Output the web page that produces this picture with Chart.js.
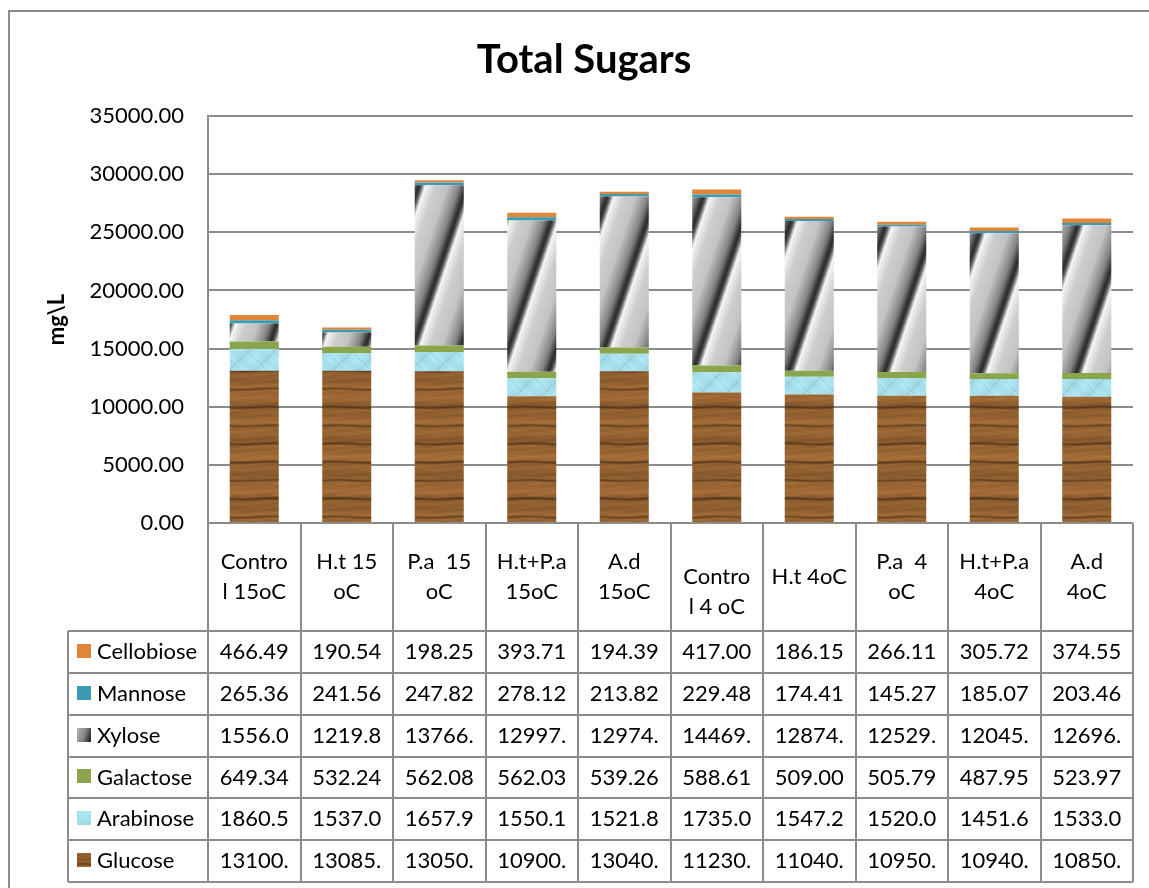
<!DOCTYPE html>
<html lang="en">
<head>
<meta charset="UTF-8" />
<title>Total Sugars</title>
<script src="https://cdn.jsdelivr.net/npm/chart.js"></script>
<style>
  html, body { margin: 0; padding: 0; background: #fff; }
  #wrap { width: 1149px; height: 888px; }
</style>
</head>
<body>
<div id="wrap"><canvas id="sugarChart" width="1149" height="888"></canvas></div>
<script>
// categories as they wrap in the data table header
const categories = [
  ["Contro", "l 15oC"], ["H.t 15", "oC"], ["P.a  15", "oC"], ["H.t+P.a", "15oC"], ["A.d", "15oC"],
  ["", "Contro", "l 4 oC"], ["H.t 4oC"], ["P.a  4", "oC"], ["H.t+P.a", "4oC"], ["A.d", "4oC"]
];
const seriesNames = ["Glucose", "Arabinose", "Galactose", "Xylose", "Mannose", "Cellobiose"];

const glucose    = [13100, 13085, 13050, 10900, 13040, 11230, 11040, 10950, 10940, 10850];
const arabinose  = [1860.5, 1537.0, 1657.9, 1550.1, 1521.8, 1735.0, 1547.2, 1520.0, 1451.6, 1533.0];
const galactose  = [649.34, 532.24, 562.08, 562.03, 539.26, 588.61, 509.00, 505.79, 487.95, 523.97];
const xylose     = [1556.0, 1219.8, 13766, 12997, 12974, 14469, 12874, 12529, 12045, 12696];
const mannose    = [265.36, 241.56, 247.82, 278.12, 213.82, 229.48, 174.41, 145.27, 185.07, 203.46];
const cellobiose = [466.49, 190.54, 198.25, 393.71, 194.39, 417.00, 186.15, 266.11, 305.72, 374.55];

const yMin = 0, yMax = 35000, yStep = 5000;

const canvas = document.getElementById("sugarChart");
const ctx = canvas.getContext("2d");
const TAU = Math.PI * 2;
const lineColor = "#8c8c8c";

// build a repeating texture from a per-pixel function
function makePattern(w, h, pixelFn) {
  const c = document.createElement("canvas");
  c.width = w; c.height = h;
  const g = c.getContext("2d");
  const img = g.createImageData(w, h);
  for (let y = 0; y < h; y++) {
    for (let x = 0; x < w; x++) {
      const p = pixelFn(x, y);
      const i = (y * w + x) * 4;
      img.data[i] = p[0]; img.data[i + 1] = p[1]; img.data[i + 2] = p[2]; img.data[i + 3] = 255;
    }
  }
  g.putImageData(img, 0, 0);
  return ctx.createPattern(c, "repeat");
}

// wood grain for glucose: mostly horizontal streaks
const woodFill = makePattern(64, 128, (x, y) => {
  const fy = y / 128, fx = x / 64;
  const s = 0.4 * Math.sin(TAU * 4 * fy + 0.15 * Math.sin(TAU * fx))
          + 0.3 * Math.sin(TAU * (11 * fy) + 0.4 * Math.sin(TAU * 2 * fx))
          + 0.2 * Math.sin(TAU * (23 * fy + fx))
          + 0.1 * Math.sin(TAU * (37 * fy - 2 * fx));
  const dark = Math.pow(Math.max(0, Math.sin(TAU * (7 * fy + 0.03 * Math.sin(TAU * fx)))), 10);
  const k = 1 + 0.15 * s - 0.35 * dark;
  return [150 * k, 99 * k, 50 * k];
});

// pale blue lattice for arabinose
const arabFill = makePattern(26, 26, (x, y) => {
  const d1 = (x + y) % 26, d2 = (x - y + 104) % 26;
  let k = 0;
  if (d1 < 2) k -= 0.06;
  if (d2 < 2) k -= 0.06;
  k += 0.04 * Math.sin(TAU * x / 26) * Math.sin(TAU * y / 26);
  return [168 * (1 + k), 225 * (1 + k), 237 * (1 + k)];
});

// steep metallic stripes for xylose
const xylStops = [[0, 40], [0.06, 90], [0.14, 245], [0.35, 205], [0.6, 195], [0.85, 130], [0.95, 70], [1, 40]];
const xylFill = makePattern(48, 144, (x, y) => {
  const t = ((x + y / 3) % 48) / 48;
  let v = 40;
  for (let i = 1; i < xylStops.length; i++) {
    const a = xylStops[i - 1], b = xylStops[i];
    if (t <= b[0]) { v = a[1] + (b[1] - a[1]) * (t - a[0]) / (b[0] - a[0]); break; }
  }
  return [v, v, v];
});

const fills = [woodFill, arabFill, "#8aa54c", xylFill, "#3a9bb2", "#df863a"];
const seriesData = [glucose, arabinose, galactose, xylose, mannose, cellobiose];

const fmt = v => v.toFixed(2).slice(0, 6);

const tablePlugin = {
  id: "dataTable",
  beforeDraw(chart) {
    const c = chart.ctx;
    c.save();
    c.fillStyle = "#fff";
    c.fillRect(0, 0, chart.width, chart.height);
    c.strokeStyle = lineColor;
    c.lineWidth = 2;
    c.strokeRect(9, 11, 1200, 1000);
    c.fillStyle = "#000";
    c.font = "bold 40px Lato";
    c.textAlign = "center";
    c.textBaseline = "middle";
    c.fillText("Total Sugars", 584, 60);
    c.restore();
  },
  afterDraw(chart) {
    const c = chart.ctx;
    const xs = chart.scales.x;
    const n = chart.data.labels.length;
    const colW = (xs.right - xs.left) / n;
    const top = chart.chartArea.bottom;
    const headBottom = top + 108;
    const rowH = 41.85;
    const sets = chart.data.datasets.slice().reverse();
    const bottom = headBottom + sets.length * rowH;
    const legLeft = 68;

    c.save();
    c.strokeStyle = lineColor;
    c.lineWidth = 2;
    c.beginPath();
    for (let i = 0; i <= n; i++) {
      const X = Math.round(xs.left + i * colW);
      c.moveTo(X, top); c.lineTo(X, bottom);
    }
    for (let r = 0; r <= sets.length; r++) {
      const Y = Math.round(headBottom + r * rowH);
      c.moveTo(legLeft, Y); c.lineTo(xs.right, Y);
    }
    c.moveTo(legLeft, headBottom); c.lineTo(legLeft, bottom);
    c.stroke();

    c.fillStyle = "#000";
    c.font = "22px Lato";
    c.textAlign = "center";
    c.textBaseline = "middle";
    const lh = 30;
    chart.data.labels.forEach((lab, i) => {
      const lines = Array.isArray(lab) ? lab : [lab];
      const cx = xs.left + (i + 0.5) * colW;
      const cy = (top + headBottom) / 2 - (lines.length - 1) * lh / 2;
      lines.forEach((t, k) => c.fillText(t, cx, cy + k * lh));
    });

    sets.forEach((ds, r) => {
      const y0 = headBottom + r * rowH;
      const cy = y0 + rowH / 2;
      c.fillStyle = ds.backgroundColor;
      c.fillRect(77, Math.round(cy - 8), 14, 14);
      c.fillStyle = "#000";
      c.textAlign = "left";
      c.fillText(ds.label, 97, cy);
      c.textAlign = "center";
      ds.data.forEach((v, i) => c.fillText(fmt(v), xs.left + (i + 0.5) * colW, cy));
    });
    c.restore();
  }
};

function draw() {
  Chart.defaults.font.family = "Lato";
  Chart.defaults.color = "#000";
  new Chart(ctx, {
    type: "bar",
    data: {
      labels: categories,
      datasets: seriesNames.map((name, i) => ({
        label: name,
        data: seriesData[i],
        backgroundColor: fills[i],
        borderWidth: 0,
        barPercentage: 0.53,
        categoryPercentage: 1.0
      }))
    },
    options: {
      responsive: false,
      animation: false,
      layout: { padding: { left: 8, right: 16, top: 116, bottom: 365 } },
      plugins: { legend: { display: false }, title: { display: false }, tooltip: { enabled: false } },
      scales: {
        x: {
          stacked: true,
          ticks: { display: false },
          grid: { display: false },
          border: { display: false },
          afterFit: s => { s.height = 0; }
        },
        y: {
          stacked: true,
          min: yMin, max: yMax,
          ticks: { stepSize: yStep, padding: 24, font: { size: 22 }, callback: v => v.toFixed(2) },
          grid: { color: lineColor, lineWidth: 2, drawTicks: false },
          border: { color: lineColor, width: 2 },
          title: { display: true, text: "mg\\L", font: { size: 22, weight: "bold" }, padding: { top: 36, bottom: 0 } },
          afterFit: s => { s.width = 200; }
        }
      }
    },
    plugins: [tablePlugin]
  });
}

if (document.fonts && document.fonts.load) {
  Promise.all([document.fonts.load("22px Lato"), document.fonts.load("bold 40px Lato")]).then(draw, draw);
} else {
  draw();
}
</script>
</body>
</html>
